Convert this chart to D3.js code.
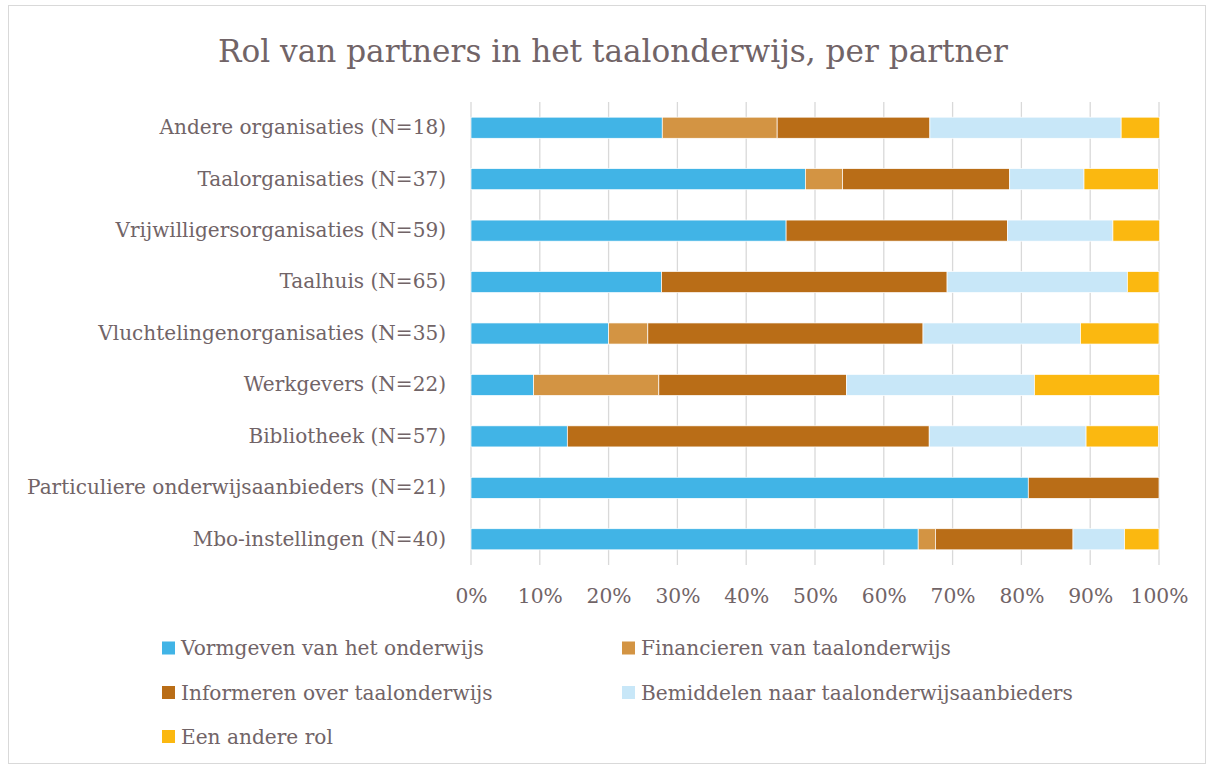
<!DOCTYPE html>
<html><head><meta charset="utf-8">
<script src="https://cdn.jsdelivr.net/npm/d3@7"></script>
<style>body{margin:0;background:#fff}svg{display:block}</style>
</head><body>
<script>
const categories = ["Andere organisaties (N=18)","Taalorganisaties (N=37)","Vrijwilligersorganisaties (N=59)","Taalhuis (N=65)","Vluchtelingenorganisaties (N=35)","Werkgevers (N=22)","Bibliotheek (N=57)","Particuliere onderwijsaanbieders (N=21)","Mbo-instellingen (N=40)"];
const seriesNames = ["Vormgeven van het onderwijs","Financieren van taalonderwijs","Informeren over taalonderwijs","Bemiddelen naar taalonderwijsaanbieders","Een andere rol"];
const vormgeven   = [27.8, 48.6, 45.8, 27.7, 20.0,  9.1, 14.0, 81.0, 65.0];
const financieren = [16.7,  5.4,  0.0,  0.0,  5.7, 18.2,  0.0,  0.0,  2.5];
const informeren  = [22.2, 24.3, 32.2, 41.5, 40.0, 27.3, 52.6, 19.0, 20.0];
const bemiddelen  = [27.8, 10.8, 15.3, 26.2, 22.9, 27.3, 22.8,  0.0,  7.5];
const andereRol   = [ 5.6, 10.8,  6.8,  4.6, 11.4, 18.2, 10.5,  0.0,  5.0];
const tickValues = [0,10,20,30,40,50,60,70,80,90,100];
const colors = ["#41B4E6","#D39443","#B96D17","#C8E7F8","#FBB810"];

const W=1214,H=764, textColor="#716467", font="DejaVu Serif, serif";
const svg=d3.select("body").append("svg").attr("width",W).attr("height",H);
svg.append("rect").attr("x",8.5).attr("y",5.5).attr("width",W-17).attr("height",H-6).attr("fill","#fff").attr("stroke","#D9D9D9");

// fit a font size so that a sample string has a target width
function fitSize(sample, target){
  const t=svg.append("text").style("font-family",font).style("font-size","20px").text(sample);
  const w=t.node().getComputedTextLength(); t.remove();
  return 20*target/w;
}
const titleSize=fitSize("Rol van partners in het taalonderwijs, per partner",790);
const labelSize=fitSize("Particuliere onderwijsaanbieders (N=21)",419);
const tickSize=fitSize("100%",58);
const legSize=fitSize("Bemiddelen naar taalonderwijsaanbieders",432);

const x=d3.scaleLinear().domain([0,100]).range([471,1159]);
const y=d3.scaleBand().domain(categories).range([102,565]).paddingInner(0.59).paddingOuter(0.295);

svg.append("text").attr("x",613).attr("y",62).attr("text-anchor","middle").attr("fill",textColor)
  .style("font-family",font).style("font-size",titleSize+"px").text("Rol van partners in het taalonderwijs, per partner");

// grid
svg.append("g").selectAll("line").data(tickValues).join("line")
  .attr("x1",d=>x(d)).attr("x2",d=>x(d)).attr("y1",102).attr("y2",565)
  .attr("stroke","#D9D9D9").attr("stroke-width",1.3);

const rows=categories.map((c,i)=>({cat:c,vals:[vormgeven[i],financieren[i],informeren[i],bemiddelen[i],andereRol[i]]}));
const stacked=d3.stack().keys(d3.range(5)).value((d,k)=>d.vals[k])(rows);
svg.append("g").selectAll("g").data(stacked).join("g").attr("fill",(d,i)=>colors[i])
  .selectAll("rect").data(d=>d).join("rect")
  .attr("x",d=>x(d[0])).attr("width",d=>Math.max(0,x(d[1])-x(d[0])))
  .attr("y",d=>y(d.data.cat)).attr("height",y.bandwidth())
  .attr("stroke",d=>(d[1]-d[0])>0?"#fff":"none").attr("stroke-width",0.7);

// y labels
const yAxis=d3.axisLeft(y).tickSize(0).tickPadding(25);
const gy=svg.append("g").attr("transform","translate(471,0)").call(yAxis);
gy.select(".domain").remove();
gy.selectAll("text").attr("fill",textColor).style("font-family",font).style("font-size",labelSize+"px");

// x labels
const xAxis=d3.axisBottom(x).tickValues(tickValues).tickFormat(d=>d+"%").tickSize(0).tickPadding(0);
const gx=svg.append("g").attr("transform","translate(0,589)").call(xAxis);
gx.select(".domain").remove();
gx.selectAll("text").attr("fill",textColor).style("font-family",font).style("font-size",tickSize+"px");

// legend
const legPos=[[162,648],[622,648],[162,692.5],[622,692.5],[162,736.5]];
const lg=svg.append("g").selectAll("g").data(seriesNames).join("g")
  .attr("transform",(d,i)=>`translate(${legPos[i][0]},${legPos[i][1]})`);
lg.append("rect").attr("x",0).attr("y",-6.5).attr("width",13).attr("height",13).attr("fill",(d,i)=>colors[i]);
lg.append("text").attr("x",19).attr("dy","0.35em").attr("fill",textColor).style("font-family",font).style("font-size",legSize+"px").text(d=>d);
</script>
</body></html>
